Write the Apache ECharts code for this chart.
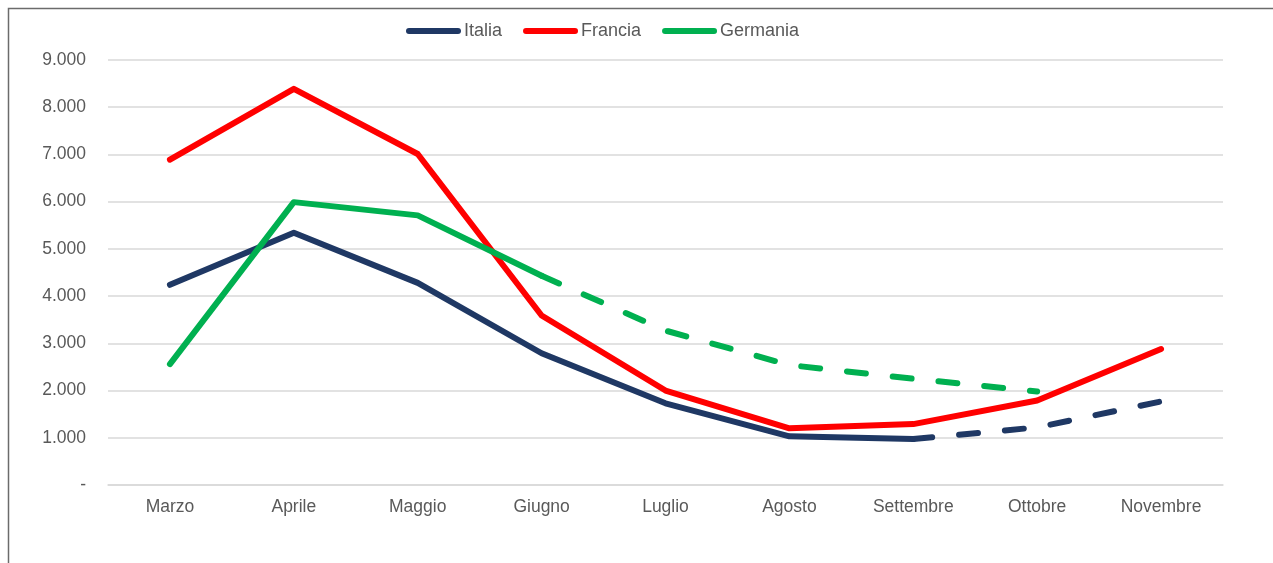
<!DOCTYPE html>
<html>
<head>
<meta charset="utf-8">
<script src="https://cdn.jsdelivr.net/npm/echarts@6/dist/echarts.min.js"></script>
<style>
  html, body { margin: 0; padding: 0; background: #fff; }
  #chart { width: 1273px; height: 563px; }
</style>
</head>
<body>
<div id="chart"></div>
<script>
// Months on the x axis
const months = ['Marzo', 'Aprile', 'Maggio', 'Giugno', 'Luglio', 'Agosto', 'Settembre', 'Ottobre', 'Novembre'];

// Monthly values per country
const italia   = [4240, 5340, 4280, 2790, 1730, 1030, 975, 1220, 1770];
const francia  = [6890, 8390, 7010, 3590, 2000, 1200, 1290, 1790, 2880];
const germania = [2560, 5990, 5710, 4430, 3270, 2540, 2250, 1980, null];

// Index from which each series is drawn dashed (estimated part)
const italiaDashFrom = 6;   // Settembre
const germaniaDashFrom = 3; // Giugno

// Y axis ticks and their labels
const yTicks = [0, 1000, 2000, 3000, 4000, 5000, 6000, 7000, 8000, 9000];
const yTickLabels = ['-', '1.000', '2.000', '3.000', '4.000', '5.000', '6.000', '7.000', '8.000', '9.000'];

const countries = ['Italia', 'Francia', 'Germania'];
const colors = { Italia: '#1F3864', Francia: '#FF0000', Germania: '#00B050' };

// Rounded bar used as legend key
const legendIcon = 'path://M3,0 L52,0 A3,3 0 0 1 52,6 L3,6 A3,3 0 0 1 3,0 Z';

function solidPart(arr, to) {
  return arr.map((v, i) => (i <= to ? v : null));
}
function dashedPart(arr, from) {
  return arr.map((v, i) => (i >= from ? v : null));
}

function lineSeries(name, data, dashed) {
  return {
    name: name,
    type: 'line',
    data: data,
    symbol: 'none',
    connectNulls: false,
    silent: true,
    animation: false,
    lineStyle: {
      color: colors[name],
      width: 6,
      cap: 'round',
      join: 'round',
      type: dashed ? [19, 27] : 'solid'
    },
    itemStyle: { color: colors[name] }
  };
}

const chart = echarts.init(document.getElementById('chart'));
const font = 'Liberation Sans, Arial, sans-serif';

chart.setOption({
  backgroundColor: '#ffffff',
  animation: false,
  textStyle: { fontFamily: font },
  legend: {
    data: countries.map(n => ({ name: n, icon: legendIcon, itemStyle: { color: colors[n] } })),
    left: 401,
    top: 17,
    itemWidth: 55,
    itemHeight: 6,
    itemGap: 21,
    textStyle: { color: '#595959', fontSize: 18, fontFamily: font, padding: [0, 0, 0, -2] }
  },
  grid: { left: 108, right: 50, top: 60, bottom: 78, containLabel: false },
  xAxis: {
    type: 'category',
    data: months,
    boundaryGap: true,
    axisLine: { show: true, lineStyle: { color: '#D9D9D9', width: 1.5 } },
    axisTick: { show: false },
    axisLabel: { color: '#595959', fontSize: 17.5, margin: 13, fontFamily: font }
  },
  yAxis: {
    type: 'value',
    min: yTicks[0],
    max: yTicks[yTicks.length - 1],
    interval: yTicks[1] - yTicks[0],
    axisLine: { show: false },
    axisTick: { show: false },
    splitLine: { lineStyle: { color: '#D9D9D9', width: 1.5 } },
    axisLabel: {
      color: '#595959',
      fontSize: 17.5,
      margin: 22,
      fontFamily: font,
      formatter: function (v) {
        const i = yTicks.indexOf(v);
        return i >= 0 ? yTickLabels[i] : '';
      }
    }
  },
  graphic: [{
    type: 'rect',
    left: 6,
    top: 6,
    shape: { x: 0, y: 0, width: 1400, height: 700 },
    style: { fill: 'none', stroke: '#6B6B6B', lineWidth: 1.5 },
    silent: true
  }],
  series: [
    lineSeries('Italia', solidPart(italia, italiaDashFrom), false),
    lineSeries('Francia', francia, false),
    lineSeries('Germania', solidPart(germania, germaniaDashFrom), false),
    lineSeries('Italia', dashedPart(italia, italiaDashFrom), true),
    lineSeries('Germania', dashedPart(germania, germaniaDashFrom), true)
  ]
});
</script>
</body>
</html>
